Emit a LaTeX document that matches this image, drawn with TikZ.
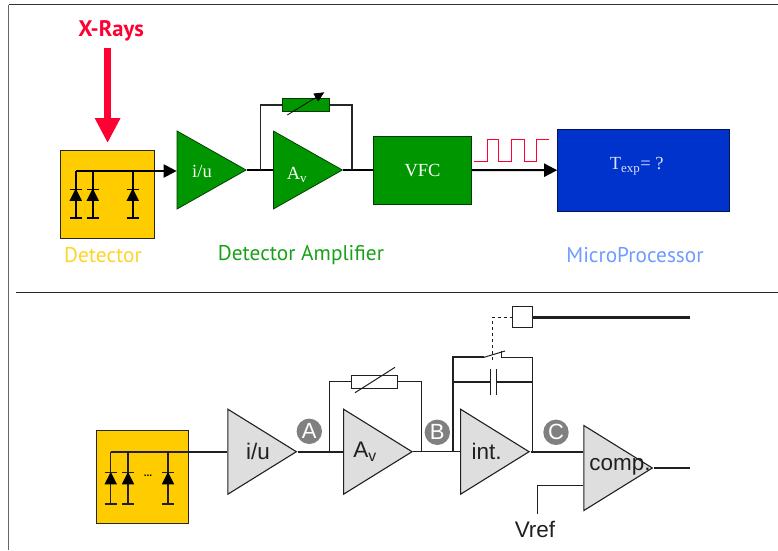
\documentclass[tikz,border=0pt]{standalone}
\usepackage{fontspec}
\setmainfont{Liberation Serif}
\setsansfont{Liberation Sans}
\newfontfamily\labelfont{PT Sans}
\usetikzlibrary{%
  arrows,%
  arrows.meta,%
  shapes.geometric,% wg. isosceles triangle
  calc
}
\definecolor{detyellow}{HTML}{FFCC00}
\definecolor{ampgreen}{HTML}{009600}
\definecolor{cpublue}{HTML}{0033CC}
\definecolor{rayred}{HTML}{FF0033}
\definecolor{procblue}{HTML}{6F9BFF}
\definecolor{wirecol}{HTML}{231F20}

\begin{document}
\begin{tikzpicture}[
  x=1pt, y=-1pt, line width=1pt, draw=black,
  caption/.style={font=\labelfont\fontsize{21.3}{23}\selectfont, inner sep=0pt},
  amptop/.style={isosceles triangle, isosceles triangle stretches, shape border rotate=0, anchor=west, minimum width=78pt, minimum height=69pt, inner sep=0pt, fill=ampgreen, draw=black!60!ampgreen, line width=0.75pt},
  ampbot/.style={isosceles triangle, isosceles triangle stretches, shape border rotate=0, anchor=west, minimum width=85pt, minimum height=68.5pt, inner sep=0pt, fill=black!13, draw=wirecol, line width=1.1pt},
  blockbox/.style={rectangle, inner sep=0pt, draw=black!60!ampgreen, fill=ampgreen, line width=1pt},
  detbox/.style={rectangle, inner sep=0pt, draw=black!85, fill=detyellow, line width=1pt},
  diode/.style={isosceles triangle, isosceles triangle stretches, shape border rotate=90, minimum width=12.5pt, minimum height=12.5pt, inner sep=0pt, fill=black, draw=none},
  badge/.style={circle, inner sep=0pt, minimum size=25.4pt, fill=black!50, text=white, font=\sffamily\fontsize{22}{22}\selectfont},
  wiretext/.style={inner sep=0pt, text=wirecol, font=\sffamily\fontsize{22.5}{24}\selectfont},
  toptext/.style={inner sep=0pt, text=white, font=\rmfamily\fontsize{18.5}{20}\selectfont}
]
\useasboundingbox (0,0) rectangle (778,550);

% frame and divider
\coordinate (frameB) at (8.5,550);
\coordinate (frameA) at (8.5,4.5);
\coordinate (frameC) at (778,4.5);
\draw[black!60,line width=1.5pt] (frameB) -- (frameA);
\draw[black!80,line width=1pt] (frameA) -- (frameC);
\coordinate (divL) at (16,292.5);
\coordinate (divR) at (778,292.5);
\draw[black!85] (divL) -- (divR);

% upper chain
\node[font=\labelfont\bfseries\fontsize{22.5}{24}\selectfont, text=rayred, inner sep=0pt] (xrays) at (111,31) {X-Rays};
\coordinate (rayS) at (107.6,48);
\coordinate (rayE) at (107.6,143);
\draw[-{Triangle[length=25pt,width=24pt]},rayred,line width=7pt] (rayS) -- (rayE);

\node[detbox, minimum width=94pt, minimum height=88pt] (det) at (107.3,194) {};
\node[amptop] (iu) at (176.7,170) {};
\node[toptext] (iuT) at (202,171) {i/u};
\node[amptop] (av) at (273,170) {};
\node[toptext] (avT) at (297,175) {A\textsubscript{v}};
\node[blockbox, minimum width=98.4pt, minimum height=68pt] (vfc) at (422.5,170) {};
\node[toptext] (vfcT) at (422.5,171) {VFC};
\node[rectangle, inner sep=0pt, minimum width=172pt, minimum height=81.7pt, fill=cpublue, draw=black!60!cpublue] (cpu) at (643.7,170.2) {};
\node[toptext, text=white!85!cpublue] (cpuT) at (636.7,166) {T\textsubscript{exp}= ?};

\coordinate (wireA) at (75.7,171);
\draw[-{Triangle[length=13pt,width=13pt]},line width=2pt] (wireA) -- (iu.west |- wireA);
\draw[line width=2pt] (iu.apex) -- (av.west);
\draw[line width=2pt] (av.apex) -- (vfc.west);
\draw[-{Triangle[length=13pt,width=13pt]},line width=2pt] (vfc.east) -- (cpu.west);

\foreach \n/\x in {1/75.7,2/92.7,3/132.7} {
  \coordinate (up\n) at (\x,171);
  \coordinate (lo\n) at (\x,218);
  \draw[line width=2pt] (up\n) -- (lo\n);
  \node[diode] (d\n) at (\x,197) {};
  \draw[line width=1pt] (\x-6,189) -- (\x+6,189);
  \draw[line width=1.25pt] (\x-6,218) -- (\x+6,218);
}

\node[rectangle, inner sep=0pt, minimum width=47.4pt, minimum height=13.4pt, fill=ampgreen, draw=black!60!ampgreen] (rtop) at (306,105) {};
\coordinate (fbL) at (260.7,170);
\coordinate (fbR) at (352,170);
\draw[black!85,line width=1.25pt] (fbL) |- (rtop.west);
\draw[black!85,line width=1.25pt] (fbR) |- (rtop.east);
\coordinate (tuneS) at (287.3,115);
\coordinate (tuneE) at (324.3,92.3);
\draw[-{Triangle[length=10pt,width=9pt]},line width=0.75pt] (tuneS) -- (tuneE);

\draw[rayred,line width=0.9pt] (474.3,161.3) -- (487.7,161.3) -- (487.7,139.3) -- (498.7,139.3) -- (498.7,161.3) -- (511.7,161.3) -- (511.7,139.3) -- (524.7,139.3) -- (524.7,161.3) -- (536.7,161.3) -- (536.7,139.3) -- (549.3,139.3);

\node[caption, text=detyellow!85!white] (capD) at (103,255.5) {Detector};
\node[caption, text=ampgreen!90!white] (capA) at (301,255.5) {Detector Amplifier};
\node[caption, text=procblue] (capM) at (635,255.5) {MicroProcessor};

% lower chain
\node[detbox, minimum width=92.4pt, minimum height=93.4pt] (detb) at (142.5,477) {};
\node[ampbot] (iub) at (227.3,451.7) {};
\node[wiretext] (iubT) at (258,451.7) {i/u};
\node[ampbot] (avb) at (343,451.7) {};
\node[wiretext] (avbT) at (365,451.7) {A\textsubscript{v}};
\node[ampbot] (intb) at (460,451.7) {};
\node[wiretext] (intbT) at (486.7,451) {int.};
\node[ampbot] (comp) at (583.3,468) {};
\node[wiretext] (compT) at (620,467) {comp.};
\node[wiretext] (vref) at (535,529) {Vref};

\node[badge] (ba) at (309.3,431.3) {A};
\node[badge] (bb) at (437.3,432.3) {B};
\node[badge] (bc) at (556,432.3) {C};

\coordinate (wireB) at (110.7,451.7);
\draw[line width=1.75pt,wirecol] (wireB) -- (iub.west);
\draw[line width=1.75pt,wirecol] (iub.apex) -- (avb.west);
\draw[wirecol] (avb.apex) -- (intb.west);
\draw[line width=1.75pt,wirecol] (intb.apex) -- (comp.west |- intb.apex);
\coordinate (outE) at (690,468);
\draw[line width=1.75pt,wirecol] (comp.apex) -- (outE);

\foreach \n/\x in {1/110.7,2/128,3/168} {
  \coordinate (ub\n) at (\x,451.7);
  \coordinate (lb\n) at (\x,504);
  \draw[line width=1.5pt,wirecol] (ub\n) -- (lb\n);
  \node[diode] (db\n) at (\x,480.5) {};
  \draw[line width=1pt,wirecol] (\x-6,472.7) -- (\x+6,472.7);
  \draw[line width=1.5pt,wirecol] (\x-6,504) -- (\x+6,504);
}
\node[inner sep=0pt, font=\sffamily\bfseries\fontsize{10}{10}\selectfont] (dots) at (148,475.5) {...};

\node[rectangle, inner sep=0pt, minimum width=46.3pt, minimum height=13.3pt, fill=white, draw=wirecol] (rbot) at (374.8,381.7) {};
\coordinate (fbbL) at (329.3,451.7);
\coordinate (fbbR) at (421.3,451.7);
\draw[line width=1.5pt,wirecol] (fbbL) |- (rbot.west);
\draw[line width=1.5pt,wirecol] (rbot.east) -| (fbbR);
\coordinate (slashS) at (355,392.7);
\coordinate (slashE) at (395,367.3);
\draw[wirecol] (slashS) -- (slashE);

% integrator feedback
\coordinate (intL) at (453.3,451.7);
\coordinate (intR) at (532,451.7);
\coordinate (swL) at (484,357.3);
\coordinate (swM) at (505,351);
\coordinate (swC) at (501.7,351);
\coordinate (swD) at (501.7,357.3);
\coordinate (capL) at (490,382);
\coordinate (capR) at (496,382);
\draw[line width=1.75pt,wirecol] (intL) |- (swL);
\draw[line width=1pt,wirecol] (swL) -- (swM);
\draw[wirecol,line width=1.5pt] (swC) -- (swD) -- (532,357.3);
\draw[wirecol] (intR) -- (532,357.3);
\draw[line width=1.5pt,wirecol] (453.3,382) -- (capL);
\draw[line width=1.5pt,wirecol] (capR) -- (532,382);
\draw[wirecol] (490,369.3) -- (490,394.7);
\draw[wirecol] (496,369.3) -- (496,394.7);

\node[rectangle, inner sep=0pt, minimum width=19.6pt, minimum height=20.6pt, fill=white, draw=wirecol, line width=1.1pt] (sq) at (522.5,317) {};
\coordinate (swT) at (492.7,360);
\draw[dashed,line width=0.6pt,wirecol] (swT) |- (sq.west);
\coordinate (lineE) at (690,317);
\draw[line width=3pt,wirecol] (sq.east) -- (lineE);

\coordinate (vrefT) at (537.7,514);
\draw[wirecol,line width=0.75pt] (vrefT) |- (comp.west |- 0,485.7);

\end{tikzpicture}
\end{document}
